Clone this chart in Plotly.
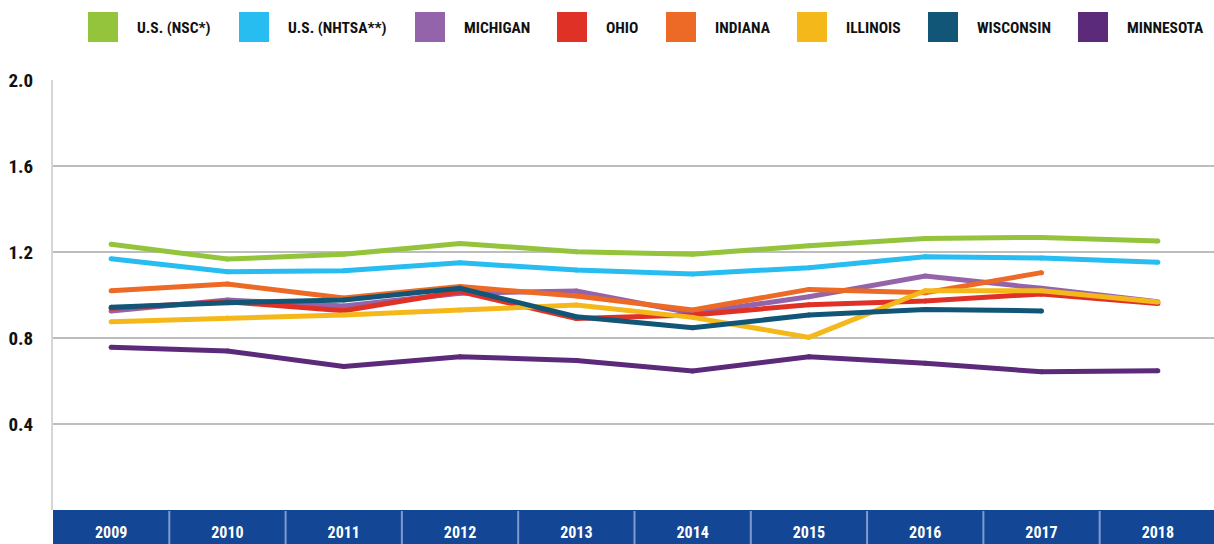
import plotly.graph_objects as go

# Fatality rate per 100 million vehicle miles travelled
years = ["2009", "2010", "2011", "2012", "2013", "2014", "2015", "2016", "2017", "2018"]

us_nsc = [1.236, 1.167, 1.189, 1.240, 1.201, 1.189, 1.229, 1.263, 1.268, 1.251]
us_nhtsa = [1.169, 1.108, 1.113, 1.150, 1.116, 1.098, 1.127, 1.178, 1.172, 1.152]
michigan = [0.926, 0.977, 0.949, 1.008, 1.019, 0.915, 0.992, 1.088, 1.031, 0.969]
ohio = [0.938, 0.969, 0.927, 1.016, 0.891, 0.907, 0.955, 0.972, 1.005, 0.960]
indiana = [1.020, 1.051, 0.986, 1.039, 0.995, 0.930, 1.026, 1.011, 1.104, None]
illinois = [0.876, 0.893, 0.907, 0.930, 0.953, 0.896, 0.803, 1.020, 1.020, 0.967]
wisconsin = [0.943, 0.964, 0.977, 1.031, 0.899, 0.848, 0.907, 0.933, 0.926, None]
minnesota = [0.757, 0.740, 0.667, 0.713, 0.695, 0.647, 0.713, 0.682, 0.643, 0.648]

series_names = ["U.S. (NSC*)", "U.S. (NHTSA**)", "MICHIGAN", "OHIO",
                "INDIANA", "ILLINOIS", "WISCONSIN", "MINNESOTA"]
series_values = [us_nsc, us_nhtsa, michigan, ohio, indiana, illinois, wisconsin, minnesota]
series_colors = ["#94c43c", "#27bdf0", "#9464aa", "#e03127",
                 "#ec6a25", "#f5b81a", "#115577", "#5c2a7a"]

y_ticks = [0.4, 0.8, 1.2, 1.6, 2.0]
y_tick_labels = ["0.4", "0.8", "1.2", "1.6", "2.0"]

W, H = 1214, 544
L, R, T, B = 53, 0, 80, 34
PW, PH = W - L - R, H - T - B

FONT = "Liberation Sans Narrow, Roboto Condensed, DejaVu Sans Condensed, Arial Narrow, sans-serif"
BAND = "#134795"


def px_x(px):
    return (px - L) / PW


def px_y(py):
    return (H - B - py) / PH


fig = go.Figure()
for name, vals, col in zip(series_names, series_values, series_colors):
    # round dots at the vertices give the lines rounded ends and joins
    fig.add_trace(go.Scatter(
        x=years, y=vals, name=name, mode="lines+markers",
        line=dict(color=col, width=5), connectgaps=False,
        marker=dict(color=col, size=5, line=dict(width=0)),
        showlegend=False,
    ))

shapes = []
annotations = []

# Blue year band under the plot area
shapes.append(dict(type="rect", xref="paper", yref="paper",
                   x0=0, x1=1.01, y0=-B / PH, y1=0,
                   fillcolor=BAND, line=dict(width=0), layer="below"))
for i in range(len(years) - 1):
    shapes.append(dict(type="line", xref="x", yref="paper",
                       x0=i + 0.5, x1=i + 0.5, y0=-B / PH, y1=-1 / PH,
                       line=dict(color="#7e9bcf", width=2), layer="below"))

# Legend: coloured squares with labels across the top
legend_left = [88, 239, 415, 557, 666, 797, 928, 1078]
for name, col, x0 in zip(series_names, series_colors, legend_left):
    shapes.append(dict(type="rect", xref="paper", yref="paper",
                       x0=px_x(x0), x1=px_x(x0 + 30), y0=px_y(42), y1=px_y(12),
                       fillcolor=col, line=dict(width=0)))
    annotations.append(dict(xref="paper", yref="paper", x=px_x(x0 + 47), y=px_y(27.5),
                            text="<b>%s</b>" % name, showarrow=False,
                            xanchor="left", yanchor="middle",
                            font=dict(family=FONT, size=15.5, color="#111111")))

fig.update_layout(
    width=W, height=H,
    margin=dict(l=L, r=R, t=T, b=B, pad=0),
    paper_bgcolor="white", plot_bgcolor="white",
    showlegend=False,
    shapes=shapes, annotations=annotations,
    xaxis=dict(
        type="category", range=[-0.5, 9.483],
        showgrid=False, zeroline=False, showline=False, ticks="",
        tickfont=dict(family=FONT, size=16, color="white"),
        ticklabelstandoff=11,
        tickprefix="<b>", ticksuffix="</b>",
    ),
    yaxis=dict(
        range=[0, 2.0], tickvals=y_ticks, ticktext=["<b>%s</b>" % t for t in y_tick_labels],
        showgrid=True, gridcolor="#bdbdbd", gridwidth=2,
        zeroline=False, showline=True, linecolor="#d6d6d6", linewidth=2,
        ticks="", ticklabelstandoff=14,
        tickfont=dict(family=FONT, size=19, color="#111111"),
    ),
)

fig.write_html("out.html")
